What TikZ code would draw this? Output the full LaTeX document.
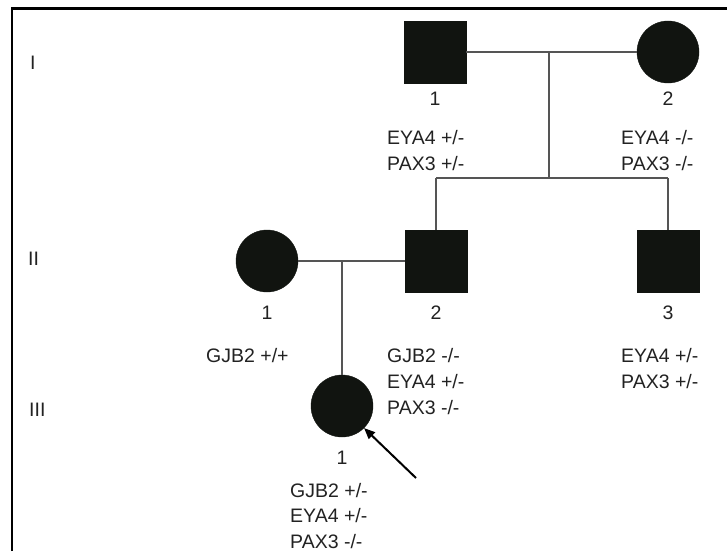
\documentclass[tikz,border=0pt]{standalone}
\usepackage{fontspec}
\setmainfont{Liberation Sans}
\usetikzlibrary{arrows.meta}
\definecolor{symfill}{HTML}{111410}
\definecolor{txt}{HTML}{222222}
\definecolor{conn}{HTML}{555555}
\begin{document}
\begin{tikzpicture}[x=1pt,y=-1pt,
  male/.style={draw=symfill,fill=symfill,minimum width=62pt,minimum height=62pt,inner sep=0pt,rectangle},
  female/.style={draw=symfill,fill=symfill,minimum size=62pt,inner sep=0pt,circle},
  lbl/.style={anchor=base west,inner sep=0pt,text=txt,font=\fontsize{19.5}{26}\selectfont},
  num/.style={anchor=base,inner sep=0pt,text=txt,font=\fontsize{19.5}{26}\selectfont},
  gen/.style={anchor=base west,inner sep=0pt,text=txt,font=\fontsize{19.5}{26}\selectfont},
  conn/.style={draw=conn,line width=1.3pt},
  frame/.style={draw=black,line width=2.6pt}]
\useasboundingbox (0,0) rectangle (727,551);
% frame
\coordinate (fc) at (12,8.7);
\coordinate (fr) at (727,8.7);
\coordinate (fb) at (12,551);
\draw[frame] (fb) -- (fc) -- (fr);
% generation labels
\node[gen] (gI) at (30,70) {I};
\node[gen] (gII) at (28,265) {II};
\node[gen] (gIII) at (29,416) {III};
% generation I
\node[male] (I1) at (435,52) {};
\node[female] (I2) at (668,52) {};
\node[num] (nI1) at (435,105) {1};
\node[num] (nI2) at (668,105) {2};
\node[lbl] (tI1a) at (387,144) {EYA4 +/-};
\node[lbl] (tI1b) at (387,170) {PAX3 +/-};
\node[lbl] (tI2a) at (621,144) {EYA4 -/-};
\node[lbl] (tI2b) at (621,170) {PAX3 -/-};
% generation II
\node[female] (II1) at (267,261) {};
\node[male] (II2) at (436,261) {};
\node[male] (II3) at (668,261) {};
\node[num] (nII1) at (267,319) {1};
\node[num] (nII2) at (436,319) {2};
\node[num] (nII3) at (668,319) {3};
\node[lbl] (tII1a) at (206,362) {GJB2 +/+};
\node[lbl] (tII2a) at (387,362) {GJB2 -/-};
\node[lbl] (tII2b) at (387,388) {EYA4 +/-};
\node[lbl] (tII2c) at (387,414) {PAX3 -/-};
\node[lbl] (tII3a) at (621,362) {EYA4 +/-};
\node[lbl] (tII3b) at (621,388) {PAX3 +/-};
% generation III
\node[female] (III1) at (342,406) {};
\node[num] (nIII1) at (342,464) {1};
\node[lbl] (tIII1a) at (290,497) {GJB2 +/-};
\node[lbl] (tIII1b) at (290,522) {EYA4 +/-};
\node[lbl] (tIII1c) at (290,548) {PAX3 -/-};
% connectors
\coordinate (m1) at (549,52);
\coordinate (s1) at (549,178);
\draw[conn] (I1) -- (I2);
\draw[conn] (m1) -- (s1);
\draw[conn] (II2.north |- s1) -- (II3.north |- s1);
\draw[conn] (II2.north |- s1) -- (II2.north);
\draw[conn] (II3.north |- s1) -- (II3.north);
\coordinate (m2) at (342,260);
\draw[conn] (II1) -- (II2);
\draw[conn] (m2) -- (III1.north);
% proband arrow
\coordinate (at) at (416,478);
\draw[black,line width=2pt,-{Triangle[length=11pt,width=9pt]}] (at) -- (III1.-45);
\end{tikzpicture}
\end{document}
